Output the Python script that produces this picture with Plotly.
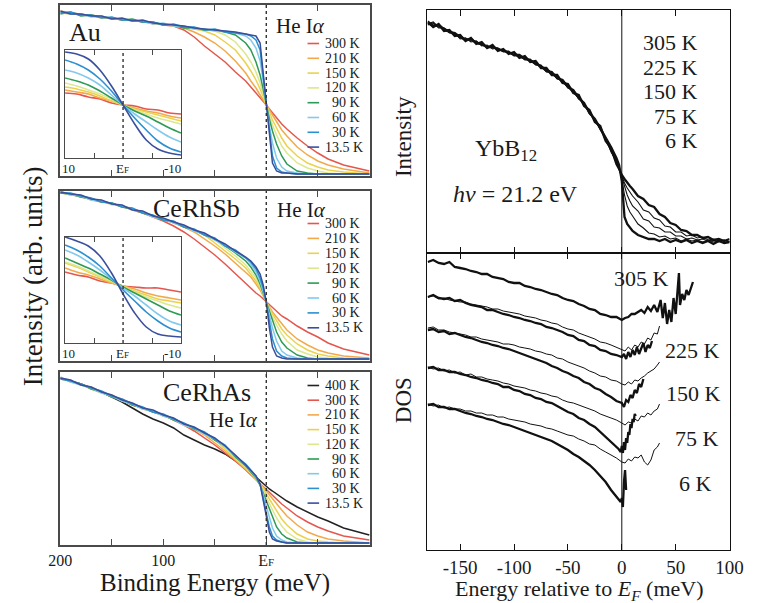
import plotly.graph_objects as go

W, H = 760, 603
SERIF = "Liberation Serif"
INK = "#1a1a1a"

# ---------------- data (arbitrary intensity units) ----------------
binding_energy = [200, 190, 180, 170, 160, 150, 140, 130, 120, 110, 100, 90, 80, 70, 60, 50, 40, 30, 20,
                  15, 10, 6, 3, 0, -3, -6, -10, -15, -20, -30, -40, -50, -60, -75, -100]
temps_he = ["300 K", "210 K", "150 K", "120 K", "90 K", "60 K", "30 K", "13.5 K"]

# Au
au_300 = [164,163,162,160,159,158,156,156,154,153, 151,150,146,139,130,122,114,104,95, 89,83,79,75,71,67,63,58,52,47,38,30,23,17,11,5]
au_210 = [165,163,161,161,159,157,157,155,155,152, 152,150,148,144,139,133,125,115,103, 95,88,81,76,71,66,60,54,46,40,29,21,15,11,7,3]
au_150 = [163,162,162,160,158,158,156,156,154,153, 151,151,148,147,145,141,134,126,113, 105,96,87,79,71,63,56,48,38,30,20,13,9,6,4,2]
au_120 = [164,163,161,160,160,157,157,155,155,153, 152,150,149,147,146,145,141,134,122, 114,104,93,82,71,60,51,41,30,23,13,8,5,3,2,2]
au_90  = [162,164,160,161,159,158,156,157,154,154, 151,151,148,148,146,146,144,141,133, 126,114,101,87,71,57,45,32,20,12,5,3,2,2,2,2]
au_60  = [164,162,162,159,160,157,157,155,155,152, 153,150,150,147,147,145,145,143,140, 136,128,115,95,71,50,33,18,9,5,3,2,2,2,2,2]
au_30  = [163,164,161,161,158,159,156,156,154,154, 151,152,149,149,146,147,144,143,142, 140,136,126,100,71,42,20,8,4,3,2,2,2,2,2,2]
au_13  = [165,162,162,160,160,157,158,155,156,153, 152,151,150,148,147,146,145,144,142, 141,140,133,103,71,36,13,5,3,3,2,2,2,2,2,2]

# CeRhSb
cs_300 = [168,167,164,162,160,157,155,151,148,144, 140,135,129,122,114,106,97,87,78, 73,68,65,62,59,56,53,50,45,42,35,29,24,18,12,6]
cs_210 = [169,166,165,161,159,158,154,152,149,144, 142,138,134,129,122,115,107,98,89, 84,77,71,65,59,54,49,44,37,31,22,16,11,8,5,3]
cs_150 = [168,167,164,162,160,157,155,152,148,145, 141,139,134,131,126,118,110,102,93, 87,80,73,66,59,53,47,40,32,26,17,11,7,5,3,2]
cs_120 = [169,166,165,161,160,156,155,151,149,144, 142,138,135,130,127,121,113,105,96, 90,83,75,67,59,51,44,36,27,20,11,7,4,3,2,2]
cs_90  = [168,167,164,162,159,158,154,152,148,145, 141,139,134,131,126,122,115,108,100, 94,86,77,68,59,49,40,29,19,13,6,3,2,2,2,2]
cs_60  = [170,166,165,161,160,157,155,152,149,144, 142,138,135,130,127,121,116,109,103, 97,89,80,70,59,46,33,20,10,6,3,2,2,2,2,2]
cs_30  = [168,168,165,163,159,158,154,153,148,146, 141,140,134,132,126,123,115,111,103, 99,92,83,73,59,40,22,10,5,3,2,2,2,2,2,2]
cs_13  = [169,167,166,162,161,157,156,151,150,145, 143,139,136,131,128,122,117,110,104, 100,94,87,76,59,33,14,5,3,2,2,2,2,2,2,2]

# CeRhAs
temps_as = ["400 K"] + temps_he
ca_400 = [167,164,161,157,153,148,143,137,131,126, 122,117,110,105,100,96,91,84,77, 73,68,64,61,59,56,54,51,47,44,38,33,28,24,17,10]
ca_300 = [167,164,161,157,153,149,145,140,137,133, 130,125,120,114,107,100,92,84,75, 70,66,62,59,56,53,50,46,41,37,29,23,18,14,9,5]
ca_210 = [166,164,160,158,153,148,146,141,136,134, 129,126,120,116,110,102,94,85,76, 71,66,62,58,54,50,46,41,35,29,20,13,9,6,4,2]
ca_150 = [167,163,161,156,152,150,145,140,137,133, 130,125,121,116,111,105,96,86,77, 72,66,61,56,51,45,40,33,26,20,11,6,4,3,2,2]
ca_120 = [166,165,160,157,153,149,144,141,136,134, 129,126,120,117,111,106,98,87,78, 72,66,60,54,48,41,35,27,19,13,6,3,2,2,2,2]
ca_90  = [167,164,161,156,153,148,145,140,137,133, 130,125,121,116,112,105,99,88,79, 73,67,60,52,44,35,27,18,11,7,3,2,2,2,2,2]
ca_60  = [168,163,160,157,152,149,144,141,136,134, 129,126,120,117,111,106,98,89,80, 74,68,61,50,38,26,17,9,5,3,2,2,2,2,2,2]
ca_30  = [166,164,161,157,154,149,146,141,138,133, 131,126,122,117,113,106,100,89,81, 75,69,61,48,32,18,9,5,3,2,2,2,2,2,2,2]
ca_13  = [167,165,160,158,153,150,145,142,137,135, 130,127,121,118,112,107,99,90,80, 75,69,61,45,28,13,6,4,3,2,2,2,2,2,2,2]

# insets (close-up around E_F)
inset_energy = [10, 8, 6, 4, 2, 0, -2, -4, -6, -8, -10]
au_in_300 = [65,64,61,59,55,53,52,49,48,45,44]
au_in_210 = [68,66,64,60,57,53,50,47,45,42,40]
au_in_150 = [71,69,66,62,57,53,49,46,43,40,37]
au_in_120 = [75,72,68,64,59,53,48,44,40,37,34]
au_in_90  = [80,77,73,67,60,53,47,42,36,30,25]
au_in_60  = [88,85,80,73,63,53,44,36,28,21,16]
au_in_30  = [98,94,88,79,67,53,40,28,17,10,6]
au_in_13  = [106,104,99,88,72,53,34,18,9,5,3]

cs_in_300 = [71,68,66,62,60,57,56,55,55,53,51]
cs_in_210 = [75,71,68,64,60,57,54,50,47,45,43]
cs_in_150 = [80,76,71,66,61,57,52,48,44,42,40]
cs_in_120 = [81,77,72,67,62,56,51,46,42,38,35]
cs_in_90  = [85,80,75,69,63,56,50,44,38,32,28]
cs_in_60  = [93,88,81,73,64,55,47,38,29,22,18]
cs_in_30  = [98,93,86,77,65,53,42,31,22,15,11]
cs_in_13  = [106,102,97,87,70,49,30,16,9,7,6]

# YbB12 photoemission intensity
yb_energy = [-180,-175,-170,-165,-160,-155,-150,-145,-140,-135,-130,-125,-120,-115,-110,-105,-100,-95,-90,-85,
             -80,-75,-70,-65,-60,-55,-50,-45,-40,-35,-30,-25,-20,-15,-10,-5,
             -2.5,0,2.5,5,7.5,10,
             15,20,25,30,35,40,45,50,55,60,65,70,75,80,85,90,95,100]
temps_yb = ["305 K", "225 K", "150 K", "75 K", "6 K"]
yb_305 = [231,226,229,222,223,217,218,212,215,209,211,205,208,202,204,199,201,195,197,191,
          192,185,185,178,178,170,169,160,158,147,143,131,127,112,105,89,
          84,78,74,70,67,64,
          57,54,48,46,39,36,30,28,23,22,18,18,15,16,13,14,12,14]
yb_225 = [228,230,225,225,220,220,214,215,211,212,207,208,204,205,201,202,197,198,193,194,
          188,188,181,181,174,173,165,163,154,150,139,134,123,115,101,92,
          84,76,70,65,61,57,
          51,43,41,35,33,27,26,21,21,17,18,15,16,13,14,12,13,11]
yb_150 = [232,228,228,223,221,218,217,213,214,210,208,206,207,203,202,200,198,196,194,192,
          189,186,182,179,175,171,166,161,155,148,140,132,124,113,102,90,
          85,76,66,58,52,47,
          42,34,32,26,25,21,21,17,17,14,15,13,14,12,13,11,13,11]
yb_75 = [229,231,226,225,222,219,215,215,212,212,208,207,205,205,202,201,199,197,195,193,
         190,187,184,180,177,172,168,162,157,149,142,133,126,114,104,92,
         86,74,58,47,41,37,
         29,25,20,19,16,17,14,15,12,14,12,13,11,13,11,12,10,12]
yb_6 = [230,227,228,224,221,220,216,213,214,210,209,206,206,204,202,201,198,198,194,193,
        189,187,182,181,175,173,166,163,155,150,140,134,125,116,106,95,
        88,72,36,29,25,22,
        18,16,14,14,12,14,11,13,11,13,10,12,10,12,9,12,10,11]

# DOS (thick = measured temperature, thin = comparison curve)
dos_energy_main = [-180,-175,-170,-165,-160,-155,-150,-145,-140,-135,-130,-125,-120,-115,-110,-105,-100,-95,
                   -90,-85,-80,-75,-70,-65,-60,-55,-50,-45,-40,-35,-30,-25,-20,-15,-10,-5]
dos_305_v = [288,290,287,286,288,283,282,281,279,278,276,276,273,272,271,268,267,267,264,263,
             261,260,258,256,255,252,250,249,246,244,241,240,236,235,233,233]
dos_305_tail_e = [0,3,6,9,12,15,18,21,24,27,30,33,36,38,40,42,44,46,48,50,52,53,54,56,58,60,62,64,66]
dos_305_tail_v = [230,232,233,236,236,238,240,237,243,239,245,238,250,232,247,226,240,228,252,236,262,277,245,256,250,260,255,262,268]

dos_225_v = [253,255,252,251,252,249,250,247,245,244,243,240,240,238,236,235,233,232,230,229,
             227,226,223,222,220,218,215,214,210,209,205,204,200,199,196,195]
dos_225_tail_e = [0,2,4,6,8,10,12,14,16,18,20,22,24,26,28]
dos_225_tail_v = [193,196,191,198,193,200,195,203,196,201,207,198,205,202,209]
dos_225_ref_v = [253,254,251,252,250,249,248,248,246,245,244,243,241,241,239,238,237,236,234,233,
                 232,230,229,227,226,223,221,220,217,215,213,211,208,207,205,203]
dos_225_ref_tail_e = [0,3,6,9,12,15,18,21,24,27,30,33,35]
dos_225_ref_tail_v = [201,199,203,200,205,203,208,206,212,210,217,216,224]

dos_150_v = [220,221,218,219,216,217,215,213,212,210,208,207,205,204,202,201,199,197,195,193,
             191,189,187,184,182,179,177,174,172,168,166,162,160,156,153,149]
dos_150_tail_e = [0,2,4,6,8,10,12,14,16,18,20]
dos_150_tail_v = [147,143,150,148,155,152,160,157,166,163,171]
dos_150_ref_v = [222,223,220,220,218,217,216,215,213,213,211,210,209,208,206,206,205,203,202,201,
                 199,198,196,195,192,191,188,186,184,182,179,177,174,173,170,169]
dos_150_ref_tail_e = [0,3,6,9,12,15,18,21,24,27,30,33,35]
dos_150_ref_tail_v = [166,165,168,166,170,169,172,174,177,179,181,185,188]

dos_75_v = [182,183,180,180,178,178,176,175,173,172,170,169,167,166,163,163,160,159,156,155,
            152,151,148,147,144,141,138,136,132,130,126,123,118,114,109,104]
dos_75_tail_e = [-3,-1,0,1,2,3,4,5,6,7,8,9,10,11,12,13]
dos_75_tail_v = [101,98,104,97,108,100,112,107,118,115,126,122,131,128,136,134]
dos_75_ref_v = [183,181,182,179,180,177,178,175,176,173,173,171,170,169,167,166,164,163,162,160,
                159,157,156,154,153,150,148,147,145,143,141,139,136,134,132,130]
dos_75_ref_tail_e = [0,3,6,9,12,15,18,21,24,27,30,33,35]
dos_75_ref_tail_v = [127,125,128,127,131,129,134,133,137,135,139,141,146]

dos_6_v = [145,146,143,143,141,141,139,137,136,134,133,131,130,128,126,125,123,121,119,117,
           115,113,111,109,106,103,100,96,93,89,85,80,74,68,60,53]
dos_6_tail_e = [-3,-1,0,1,2,3,4]
dos_6_tail_v = [50,48,52,43,68,80,60]
dos_6_ref_v = [146,144,145,142,143,141,141,139,139,137,137,135,135,133,133,131,130,129,128,126,
               125,124,122,121,119,117,115,114,111,109,106,105,101,98,95,92]
dos_6_ref_tail_e = [0,3,6,9,12,15,18,21,24,27,30,33,35]
dos_6_ref_tail_v = [88,87,91,89,93,92,95,88,85,90,100,103,107]

# ---------------- styles ----------------
temp_colors = {"400 K": "#222222", "300 K": "#e5564d", "210 K": "#f2a94a", "150 K": "#ead24e",
               "120 K": "#dde78c", "90 K": "#2e9a55", "60 K": "#82c9ec", "30 K": "#2c8fd0",
               "13.5 K": "#3a4f9c"}

def fx(p):
    return p / W

def fy(p):
    return 1 - p / H

fig = go.Figure()

def add_line(x, y, xa, ya, color, width, shape="linear"):
    fig.add_trace(go.Scatter(x=x, y=y, mode="lines", xaxis=xa, yaxis=ya,
                             line=dict(color=color, width=width, shape=shape),
                             showlegend=False, hoverinfo="skip"))

au_sets = [au_300, au_210, au_150, au_120, au_90, au_60, au_30, au_13]
cs_sets = [cs_300, cs_210, cs_150, cs_120, cs_90, cs_60, cs_30, cs_13]
ca_sets = [ca_400, ca_300, ca_210, ca_150, ca_120, ca_90, ca_60, ca_30, ca_13]
au_in_sets = [au_in_300, au_in_210, au_in_150, au_in_120, au_in_90, au_in_60, au_in_30, au_in_13]
cs_in_sets = [cs_in_300, cs_in_210, cs_in_150, cs_in_120, cs_in_90, cs_in_60, cs_in_30, cs_in_13]

for t, v in zip(temps_he, au_sets):
    add_line(binding_energy, v, "x", "y", temp_colors[t], 1.5)
for t, v in zip(temps_he, cs_sets):
    add_line(binding_energy, v, "x2", "y2", temp_colors[t], 1.5)
for t, v in zip(temps_as, ca_sets):
    add_line(binding_energy, v, "x3", "y3", temp_colors[t], 1.5)
for t, v in zip(temps_he, au_in_sets):
    add_line(inset_energy, v, "x4", "y4", temp_colors[t], 1.6, "spline")
for t, v in zip(temps_he, cs_in_sets):
    add_line(inset_energy, v, "x5", "y5", temp_colors[t], 1.6, "spline")

yb_sets = [yb_305, yb_225, yb_150, yb_75, yb_6]
yb_widths = [2.3, 1.1, 1.1, 1.1, 2.3]
for v, w in zip(yb_sets, yb_widths):
    add_line(yb_energy, v, "x6", "y6", "#111111", w)

dos_ref = [(dos_225_ref_v, dos_225_ref_tail_e, dos_225_ref_tail_v),
           (dos_150_ref_v, dos_150_ref_tail_e, dos_150_ref_tail_v),
           (dos_75_ref_v, dos_75_ref_tail_e, dos_75_ref_tail_v),
           (dos_6_ref_v, dos_6_ref_tail_e, dos_6_ref_tail_v)]
dos_meas = [(dos_305_v, dos_305_tail_e, dos_305_tail_v),
            (dos_225_v, dos_225_tail_e, dos_225_tail_v),
            (dos_150_v, dos_150_tail_e, dos_150_tail_v),
            (dos_75_v, dos_75_tail_e, dos_75_tail_v),
            (dos_6_v, dos_6_tail_e, dos_6_tail_v)]
for main_v, te, tv in dos_ref:
    add_line(dos_energy_main + te, main_v + tv, "x7", "y7", "#111111", 1.0)
for main_v, te, tv in dos_meas:
    add_line(dos_energy_main + te, main_v + tv, "x7", "y7", "#111111", 2.3)

# ---------------- axes ----------------
GREY = "#4a4a4a"
EF_TICK = 'E<span style="font-size:11px">F</span>'

def left_x(dom_anchor, labels=False):
    d = dict(domain=[fx(50), fx(371)], range=[200, -101], anchor=dom_anchor,
             showline=True, linecolor=GREY, linewidth=1.5, mirror="ticks",
             ticks="inside", ticklen=6, tickwidth=1.2, tickcolor=GREY,
             showgrid=False, zeroline=False)
    if labels:
        d.update(tickvals=[200, 100, 0], ticktext=["200", "100", EF_TICK],
                 tickfont=dict(family=SERIF, size=16, color=INK),
                 minor=dict(tickvals=[150, 50, -50], ticks="inside", ticklen=6,
                            tickwidth=1.2, tickcolor=GREY, showgrid=False))
    else:
        d.update(tickvals=[150, 100, 50, -50], showticklabels=False)
    return d

def frame_y(dom, rng, anchor, color=GREY, lw=1.5):
    return dict(domain=dom, range=rng, anchor=anchor, showline=True, linecolor=color,
                linewidth=lw, mirror=True, ticks="", showticklabels=False,
                showgrid=False, zeroline=False)

def inset_x(anchor):
    return dict(domain=[fx(55), fx(175)], range=[10, -10], anchor=anchor,
                showline=True, linecolor=GREY, linewidth=1.3, mirror="ticks",
                ticks="inside", ticklen=5, tickwidth=1.1, tickcolor=GREY,
                tickvals=[5, -5], showticklabels=False, showgrid=False, zeroline=False)

def right_x(anchor, labels=False):
    d = dict(domain=[fx(430), fx(743)], range=[-180.5, 100], anchor=anchor,
             showline=True, linecolor="#111111", linewidth=1.1, mirror="ticks",
             ticks="inside", ticklen=6, tickwidth=1, tickcolor="#111111",
             tickvals=[-150, -100, -50, 0, 50, 100], showgrid=False, zeroline=False)
    if labels:
        d.update(ticktext=["-150", "-100", "-50", "0", "50", "100"],
                 tickfont=dict(family=SERIF, size=19, color=INK))
    else:
        d.update(showticklabels=False)
    return d

fig.update_layout(
    width=W, height=H, margin=dict(l=0, r=0, t=0, b=0),
    paper_bgcolor="white", plot_bgcolor="rgba(0,0,0,0)",
    font=dict(family=SERIF, color=INK),
    showlegend=False,
    xaxis=left_x("y"), yaxis=frame_y([fy(176), fy(5)], [0, 171], "x"),
    xaxis2=left_x("y2"), yaxis2=frame_y([fy(361), fy(191)], [0, 170], "x2"),
    xaxis3=left_x("y3", labels=True), yaxis3=frame_y([fy(545), fy(372)], [0, 173], "x3"),
    xaxis4=inset_x("y4"), yaxis4=frame_y([fy(158), fy(50)], [0, 108], "x4", lw=1.3),
    xaxis5=inset_x("y5"), yaxis5=frame_y([fy(343), fy(237)], [0, 106], "x5", lw=1.3),
    xaxis6=right_x("y6"), yaxis6=frame_y([fy(253), fy(10)], [0, 243], "x6", "#111111", 1.1),
    xaxis7=right_x("y7", labels=True), yaxis7=frame_y([fy(550), fy(253)], [0, 297], "x7", "#111111", 1.1),
)

# ---------------- shapes ----------------
shapes = []
for xa, ya in [("x", "y"), ("x2", "y2"), ("x3", "y3"), ("x4", "y4"), ("x5", "y5")]:
    shapes.append(dict(type="line", xref=xa, yref=ya + " domain", x0=0, x1=0, y0=0, y1=1,
                       line=dict(color="#333333", width=1.4, dash="3px,3px")))
for xa, ya in [("x6", "y6"), ("x7", "y7")]:
    shapes.append(dict(type="line", xref=xa, yref=ya + " domain", x0=0, x1=0, y0=0, y1=1,
                       line=dict(color="#111111", width=1.0)))

annotations = []

def text(s, x, y, size, xanchor="left", yanchor="middle", angle=0):
    annotations.append(dict(text=s, x=fx(x), y=fy(y), xref="paper", yref="paper",
                            xanchor=xanchor, yanchor=yanchor, showarrow=False, textangle=angle,
                            font=dict(family=SERIF, size=size, color=INK)))

def legend(temps, y0, step):
    for i, t in enumerate(temps):
        yy = y0 + i * step
        shapes.append(dict(type="line", xref="paper", yref="paper", x0=fx(306), x1=fx(318),
                           y0=fy(yy), y1=fy(yy), line=dict(color=temp_colors[t], width=1.6)))
        shift = 7 if len(t.split()[0]) == 2 else 0
        text(t, 322 + shift, yy, 14)

legend(temps_he, 43.5, 14.8)
legend(temps_he, 223.5, 14.9)
legend(temps_as, 385.5, 14.7)

text("Au", 57, 33, 26)
text("He I<i>α</i>", 271, 26, 21)
text("CeRhSb", 144, 208, 26)
text("He I<i>α</i>", 272, 210, 21)
text("CeRhAs", 154, 392, 26)
text("He I<i>α</i>", 202, 420, 21)

for yy in (168, 353):
    text("10", 58, yy, 13, xanchor="center")
    text('E<span style="font-size:9px">F</span>', 114, yy, 13, xanchor="center")
    text("-10", 166, yy, 13, xanchor="center")

text("Binding Energy (meV)", 210, 583, 25, xanchor="center")
text("Intensity (arb. units)", 22, 276, 27, xanchor="center", angle=-90)

text("Intensity", 406, 137, 23, xanchor="center", angle=-90)
text("DOS", 405, 400, 23, xanchor="center", angle=-90)
for i, t in enumerate(temps_yb):
    text(t, 712, 42.5 + i * 24.5, 22, xanchor="right")
text("YbB<sub>12</sub>", 477, 150, 24)
text("<i>hν</i> = 21.2 eV", 455, 194, 24)

for t, xr, yy in zip(temps_yb, [682, 735, 736, 734, 727], [278, 350, 393, 438, 483]):
    text(t, xr, yy, 22, xanchor="right")

text("Energy relative to <i>E<sub>F</sub></i> (meV)", 587, 590, 22, xanchor="center")

fig.update_layout(shapes=shapes, annotations=annotations)
fig.write_html("out.html")
